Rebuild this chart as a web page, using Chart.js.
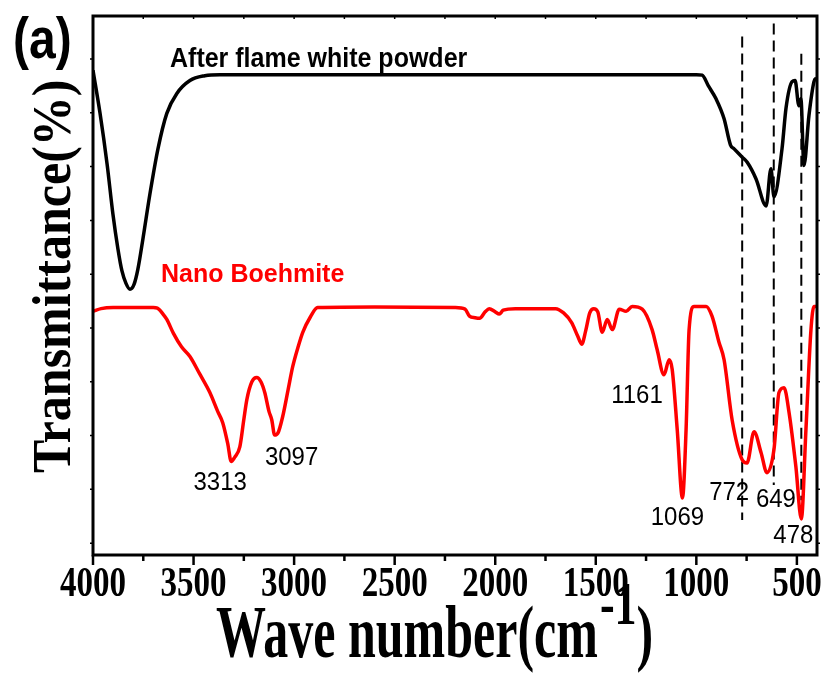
<!DOCTYPE html>
<html>
<head>
<meta charset="utf-8">
<title>FTIR spectra</title>
<script src="https://cdn.jsdelivr.net/npm/chart.js@4.4.1/dist/chart.umd.min.js"></script>
<style>
  html, body { margin: 0; padding: 0; background: #fff; }
  canvas { display: block; }
</style>
</head>
<body>
<canvas id="ftirChart" width="826" height="675"></canvas>
<script>
// after flame white powder: wavenumber (cm-1) / transmittance (a.u.)
const flameWn = [4000, 3965, 3930, 3901, 3876, 3856, 3836, 3816, 3796, 3777, 3752, 3717, 3677, 3633,
  3583, 3518, 3444, 3369, 3200, 3000, 2600, 2200, 1800, 1400, 1200, 1000, 971, 940, 902, 862, 830,
  812, 773, 747, 703, 653, 629, 614, 574, 554, 524, 509, 490, 480, 465, 440, 415, 402];
const flameT = [97.9, 89.9, 80.5, 71.2, 64.7, 60.6, 58.3, 57.2, 58.1, 60.9, 66.5, 74.9, 83.3, 89.9,
  93.6, 96.0, 96.9, 97.1, 97.1, 97.1, 97.1, 97.1, 97.1, 97.1, 97.1, 97.1, 97.0, 95.0, 92.6, 88.9, 84.0,
  83.3, 81.8, 80.8, 77.7, 72.7, 79.6, 74.4, 83.3, 90.9, 95.8, 96.0, 91.3, 92.6, 80.2, 89.5, 95.8, 96.5];

// nano boehmite
const boehmiteWn = [4000, 3960, 3900, 3800, 3700, 3680, 3650, 3633, 3600, 3560, 3518, 3470, 3419, 3380,
  3355, 3330, 3313, 3295, 3270, 3250, 3235, 3210, 3186, 3165, 3146, 3125, 3111, 3097, 3080, 3057, 3030,
  3007, 2980, 2957, 2920, 2883, 2600, 2200, 2150, 2128, 2100, 2078, 2050, 2030, 2000, 1980, 1960, 1900,
  1700, 1660, 1620, 1590, 1570, 1550, 1530, 1510, 1490, 1468, 1443, 1418, 1383, 1349, 1319, 1269, 1220,
  1195, 1161, 1135, 1120, 1095, 1069, 1051, 1036, 1011, 951, 922, 887, 862, 822, 772, 748, 713, 678,
  649, 614, 589, 564, 539, 505, 478, 455, 430, 415, 402];
const boehmiteT = [53.1, 53.6, 53.8, 53.8, 53.8, 53.7, 52.5, 51.6, 49.0, 46.5, 44.7, 41.5, 38.0, 34.5,
  32.4, 28.5, 25.2, 26.0, 27.9, 33.0, 36.7, 40.0, 40.8, 40.0, 38.0, 34.5, 32.9, 30.1, 30.5, 33.5, 38.5,
  42.8, 46.5, 49.2, 52.0, 53.8, 53.9, 53.8, 53.5, 52.2, 51.9, 51.8, 53.0, 53.6, 53.0, 52.6, 53.3, 53.6,
  53.6, 52.8, 51.0, 48.5, 47.0, 49.5, 52.8, 53.6, 53.0, 49.2, 51.6, 49.7, 53.5, 53.1, 54.0, 53.5, 49.7,
  46.0, 41.3, 44.1, 42.3, 31.1, 18.4, 31.1, 49.7, 54.0, 54.0, 52.2, 47.3, 44.1, 32.9, 25.5, 24.9, 30.7, 26.8,
  23.1, 27.4, 38.0, 38.9, 34.3, 24.2, 14.5, 31.1, 49.7, 54.0, 54.0];

// tick positions
const xTickValues = [4000, 3750, 3500, 3250, 3000, 2750, 2500, 2250, 2000, 1750, 1500, 1250, 1000, 750, 500];
const yTickValues = [10, 20, 30, 40, 50, 60, 70, 80, 90, 100];

// labelled absorption bands of the boehmite curve
const peakLabels = ["3313", "3097", "1161", "1069", "772", "649", "478"];
const peakWn = [3313, 3097, 1161, 1069, 772, 649, 478];
const peakOffsets = [[-11, 21], [17, 23], [-27, 21], [-5, 20], [-13, 33], [9, 27], [-8, 17]];

// dashed guide lines: wavenumber and vertical extent
const guideWn = [772, 615, 478];
const guideTop = [104.2, 106.6, 101.0];
const guideBottom = [14.3, 20.8, 18.0];

function toPoints(xs, ys) {
  return xs.map((x, i) => ({ x: x, y: ys[i] }));
}

function stretchText(ctx, text, x, y, font, sy, align) {
  ctx.save();
  ctx.translate(x, y);
  ctx.scale(1, sy);
  ctx.font = font;
  ctx.textAlign = align || "left";
  ctx.textBaseline = "alphabetic";
  ctx.fillText(text, 0, 0);
  ctx.restore();
}

const SERIF = '"Liberation Serif", "Times New Roman", serif';
const SANS = '"Liberation Sans", Arial, sans-serif';

const guideSets = guideWn.map((wn, i) => ({
  data: [{ x: wn, y: guideTop[i] }, { x: wn, y: guideBottom[i] }],
  borderColor: "#000",
  borderWidth: 2,
  borderDash: [11, 6],
  pointRadius: 0,
  order: 5
}));

// axes frame, ticks, titles and band labels
const framePlugin = {
  id: "frame",
  beforeDraw(chart) {
    const ctx = chart.ctx;
    ctx.save();
    ctx.fillStyle = "#fff";
    ctx.fillRect(0, 0, chart.width, chart.height);
    ctx.restore();
  },
  afterDraw(chart) {
    const ctx = chart.ctx;
    const { left, right, top, bottom } = chart.chartArea;
    const xs = chart.scales.x;
    const ys = chart.scales.y;
    ctx.save();
    ctx.strokeStyle = "#000";
    ctx.fillStyle = "#000";

    ctx.lineWidth = 2.5;
    xs.ticks.forEach(t => {
      const px = xs.getPixelForValue(t.value);
      const major = t.value % 500 === 0;
      ctx.beginPath();
      ctx.moveTo(px, bottom);
      ctx.lineTo(px, bottom + (major ? 10 : 6));
      ctx.stroke();
      ctx.lineWidth = 1.5;
      ctx.beginPath();
      ctx.moveTo(px, top);
      ctx.lineTo(px, top + 3);
      ctx.stroke();
      ctx.lineWidth = 2.5;
      if (major) {
        stretchText(ctx, String(t.value), px, 596, "bold 33px " + SERIF, 1.3, "center");
      }
    });

    ctx.lineWidth = 1.5;
    ys.ticks.forEach(t => {
      const py = ys.getPixelForValue(t.value);
      ctx.beginPath();
      ctx.moveTo(left - 3, py);
      ctx.lineTo(left, py);
      ctx.moveTo(right, py);
      ctx.lineTo(right + 3, py);
      ctx.stroke();
    });

    ctx.lineWidth = 3;
    ctx.strokeRect(left, top, right - left, bottom - top);

    // x axis title with superscript
    ctx.font = "bold 50px " + SERIF;
    const main = "Wave number(cm";
    const w1 = ctx.measureText(main).width;
    let tx = 216;
    stretchText(ctx, main, tx, 657, "bold 50px " + SERIF, 1.5, "left");
    tx += w1 + 2;
    ctx.font = "bold 44px " + SERIF;
    const sup = "-1";
    const w2 = ctx.measureText(sup).width;
    stretchText(ctx, sup, tx, 624, "bold 44px " + SERIF, 1.4, "left");
    tx += w2;
    stretchText(ctx, ")", tx, 657, "bold 50px " + SERIF, 1.5, "left");

    // y axis title
    ctx.save();
    ctx.translate(70, 473);
    ctx.rotate(-Math.PI / 2);
    ctx.scale(1, 1.1);
    ctx.font = "bold 50px " + SERIF;
    ctx.textAlign = "left";
    ctx.fillText("Transmittance(%)", 0, 0);
    ctx.restore();

    // panel letter and series names
    stretchText(ctx, "(a)", 13, 58, "bold 48px " + SANS, 1.18, "left");
    stretchText(ctx, "After flame white powder", 170, 67, "bold 25px " + SANS, 1.08, "left");
    ctx.fillStyle = "#ff0000";
    stretchText(ctx, "Nano Boehmite", 161, 282, "bold 25px " + SANS, 1.0, "left");

    // band positions
    ctx.fillStyle = "#000";
    peakLabels.forEach((label, i) => {
      const idx = boehmiteWn.indexOf(peakWn[i]);
      const px = xs.getPixelForValue(peakWn[i]) + peakOffsets[i][0];
      const py = ys.getPixelForValue(boehmiteT[idx]) + peakOffsets[i][1];
      ctx.save();
      ctx.font = "24px " + SANS;
      ctx.textAlign = "center";
      ctx.textBaseline = "middle";
      ctx.translate(px, py);
      ctx.scale(1, 1.1);
      ctx.fillText(label, 0, 0);
      ctx.restore();
    });
    ctx.restore();
  }
};

new Chart(document.getElementById("ftirChart").getContext("2d"), {
  type: "line",
  data: {
    datasets: [
      {
        label: "After flame white powder",
        data: toPoints(flameWn, flameT),
        borderColor: "#000",
        borderWidth: 3.5,
        pointRadius: 0,
        cubicInterpolationMode: "monotone",
        order: 1
      },
      {
        label: "Nano Boehmite",
        data: toPoints(boehmiteWn, boehmiteT),
        borderColor: "#ff0000",
        borderWidth: 3.5,
        pointRadius: 0,
        cubicInterpolationMode: "monotone",
        order: 2
      }
    ].concat(guideSets)
  },
  options: {
    responsive: false,
    animation: false,
    layout: { padding: { left: 93, right: 9, top: 16, bottom: 120 } },
    plugins: { legend: { display: false }, tooltip: { enabled: false } },
    scales: {
      x: {
        type: "linear",
        reverse: true,
        min: 400,
        max: 4000,
        display: false,
        afterBuildTicks: axis => { axis.ticks = xTickValues.map(v => ({ value: v })); }
      },
      y: {
        type: "linear",
        min: 7.8,
        max: 108,
        display: false,
        afterBuildTicks: axis => { axis.ticks = yTickValues.map(v => ({ value: v })); }
      }
    }
  },
  plugins: [framePlugin]
});
</script>
</body>
</html>
